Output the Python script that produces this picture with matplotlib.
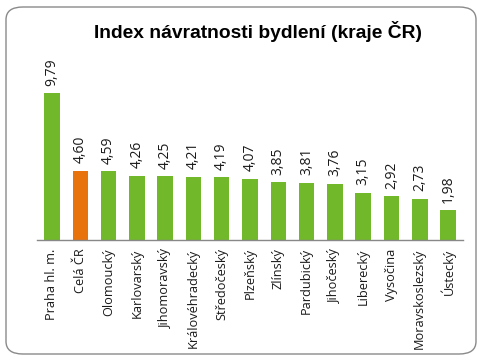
import matplotlib
matplotlib.use('Agg')
import matplotlib.pyplot as plt
from matplotlib.patches import FancyBboxPatch

kraje = ['Praha hl. m.', 'Celá ČR', 'Olomoucký', 'Karlovarský', 'Jihomoravský',
         'Královéhradecký', 'Středočeský', 'Plzeňský', 'Zlínský', 'Pardubický',
         'Jihočeský', 'Liberecký', 'Vysočina', 'Moravskoslezský', 'Ústecký']
hodnoty = [9.79, 4.60, 4.59, 4.26, 4.25, 4.21, 4.19, 4.07, 3.85, 3.81,
           3.76, 3.15, 2.92, 2.73, 1.98]
zvyraznit = 'Celá ČR'

W, H = 483, 360
fig = plt.figure(figsize=(W / 100, H / 100), dpi=100)
fig.patch.set_facecolor('white')

# zaoblený rámeček kolem grafu (pod osami)
ramecek = FancyBboxPatch((6 / W, 6 / H), 470 / W, 347 / H,
                         boxstyle='round,pad=0,rounding_size=0.035',
                         transform=fig.transFigure, facecolor='white',
                         edgecolor='#8a8a8a', linewidth=1.0, zorder=-1)
fig.patches.append(ramecek)

ax = fig.add_axes([37 / W, 1 - 240 / H, 426 / W, 180 / H])
ax.set_facecolor('none')

barvy = ['#E8720C' if k == zvyraznit else '#72B82B' for k in kraje]
x = list(range(len(kraje)))
ax.bar(x, hodnoty, width=0.55, color=barvy)

for xi, v in zip(x, hodnoty):
    ax.annotate(f'{v:.2f}'.replace('.', ','), (xi, v), xytext=(0, 5.5),
                textcoords='offset points', rotation=90, ha='center', va='bottom',
                fontsize=10, family='Open Sans', color='#1a1a1a')

ax.set_xlim(-0.53, len(kraje) - 0.47)
ax.set_ylim(0, 12)
ax.set_xticks(x)
ax.set_xticklabels(kraje, rotation=90, fontsize=9.2, family='Open Sans', color='#1a1a1a')
ax.tick_params(axis='x', length=0, pad=6)
ax.set_yticks([])
for s in ['top', 'right', 'left']:
    ax.spines[s].set_visible(False)
ax.spines['bottom'].set_color('#888888')
ax.spines['bottom'].set_linewidth(1.0)

fig.text(258 / W, 1 - 31 / H, 'Index návratnosti bydlení (kraje ČR)',
         ha='center', va='center', fontsize=13.9, fontweight='bold',
         family='Liberation Sans')

fig.savefig('out.png', dpi=100)
